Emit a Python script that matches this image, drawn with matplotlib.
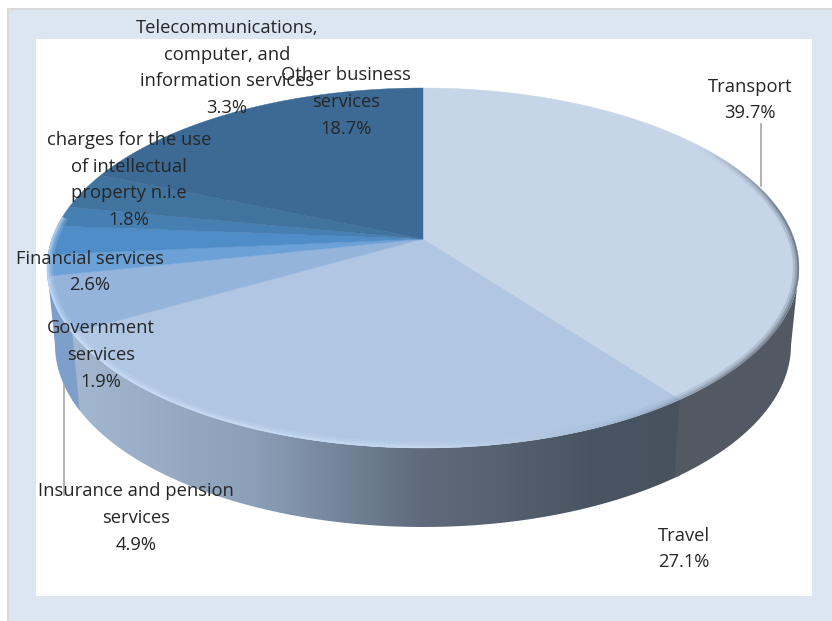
import numpy as np
import matplotlib
matplotlib.use("Agg")
import matplotlib.pyplot as plt
from matplotlib.colors import LinearSegmentedColormap
from matplotlib.collections import LineCollection
from matplotlib.patches import Polygon, Rectangle

plt.rcParams['font.family'] = ['Open Sans', 'DejaVu Sans']

# slices, clockwise from 12 o'clock
categories = ["Transport", "Travel", "Insurance and pension\nservices", "Government\nservices",
              "Financial services", "charges for the use\nof intellectual\nproperty n.i.e",
              "Telecommunications,\ncomputer, and\ninformation services", "Other business\nservices"]
shares = [39.7, 27.1, 4.9, 1.9, 2.6, 1.8, 3.3, 18.7]

top_colors = ["#C6D5E8", "#B0C6E3", "#94B4DC", "#6CA1D8", "#4F8DC8", "#4680B3", "#41739F", "#3C6A94"]
# label centres, pixels
label_pos = [(750, 100), (684, 549), (136, 518), (101, 355), (90, 272), (129, 180), (227, 68), (346, 102)]

# picture geometry in pixels
cx, cy, rx, ry = 423, 268, 376, 180   # outline of the top face
pivot_y = 239
up, down = cy - ry, cy + ry
# perspective so that the centre of the pie lands on the pivot
a_up, a_down = pivot_y - up, down - pivot_y
k = (a_down - a_up) / (a_down + a_up)
a = a_up * (1 + k)
c = rx * np.sqrt(1 - k ** 2)


def top_pt(pct):
    th = np.radians(np.asarray(pct) * 3.6)
    u, v = np.sin(th), np.cos(th)
    w = 1 + k * v
    return cx + c * u / w, pivot_y - a * v / w


def bottom_pt(pct):
    x, y = top_pt(pct)
    return cx + (x - cx) * 368 / rx, 345 + (y - cy) * 182 / ry


fig = plt.figure(figsize=(8.32, 6.21), dpi=100)
ax = fig.add_axes([0, 0, 1, 1])
ax.set_xlim(0, 832)
ax.set_ylim(621, 0)
ax.axis("off")

# frame
ax.add_patch(Rectangle((7, 8), 825, 613, fc="#DCE6F2", ec="none", zorder=0))
ax.plot([7.5, 7.5, 832], [621, 8.5, 8.5], color="#D9D9D9", lw=1.5, zorder=0.5)
ax.add_patch(Rectangle((36, 39), 776, 557, fc="white", ec="none", zorder=1))

edges = np.concatenate([[0], np.cumsum(shares)])
edges = edges / edges[-1] * 100

# where the outline is widest, the wall starts and stops there
scan = np.linspace(0, 100, 2001)
scan_x = top_pt(scan)[0]
p_right, p_left = scan[scan_x.argmax()], scan[scan_x.argmin()]

# side wall
wall_cmap = LinearSegmentedColormap.from_list("wall", [(0, "#A4B7D0"), (0.3, "#8B9FB8"), (0.57, "#606C7D"),
                                                       (0.85, "#4A5563"), (1, "#47525F")])
pcts = np.linspace(p_right, p_left, 400)
tx, ty = top_pt(pcts)
bx, by = bottom_pt(pcts)
wall = np.column_stack([np.r_[tx, bx[::-1]], np.r_[ty, by[::-1]]])
grad = np.linspace(0, 1, 256)[None, :]
im = ax.imshow(grad, extent=(72, 680, 540, 200), cmap=wall_cmap, aspect="auto", zorder=2)
im.set_clip_path(Polygon(wall, transform=ax.transData))
ax.set_xlim(0, 832)
ax.set_ylim(621, 0)

# Transport and far-left walls have their own flat colours
for start, end, col in [(p_right, edges[1], "#525962"), (edges[2], p_left, "#7F9FCB")]:
    p = np.linspace(start, end, 160)
    x1, y1 = top_pt(p)
    x2, y2 = bottom_pt(p)
    ax.fill(np.r_[x1, x2[::-1]], np.r_[y1, y2[::-1]], color=col, lw=0, zorder=3)

# top face
for i in range(len(shares)):
    p = np.linspace(edges[i], edges[i + 1], 150)
    x, y = top_pt(p)
    ax.fill(np.r_[cx, x], np.r_[pivot_y, y], color=top_colors[i], lw=0.3, zorder=4)

# bevel touching the rim: bright at left and front, dark grey on the right
bevel_cmap = LinearSegmentedColormap.from_list("bevel", [(0, "#CFE4FF"), (0.5, "#CDE0F8"), (0.78, "#9DB3CE"),
                                                         (0.9, "#6F7A88"), (1, "#505A66")])
p = np.linspace(15, 77, 420)
xe, ye = top_pt(p)
dx, dy = cx - xe, cy - ye
dist = np.hypot(dx, dy)
fade = np.clip((p[:-1] - 15) / 7, 0, 1)   # dark edge eases in at the upper right
for offset, width, alpha in [(3, 4.5, 0.2), (1.8, 2.6, 0.3), (0.8, 1.2, 0.5)]:
    xo, yo = xe + dx / dist * offset, ye + dy / dist * offset
    pts = np.column_stack([xo, yo])
    segs = np.stack([pts[:-1], pts[1:]], axis=1)
    rgba = bevel_cmap(np.clip((xo[:-1] - 47) / 752, 0, 1))
    rgba[:, 3] = alpha * fade
    ax.add_collection(LineCollection(segs, colors=rgba, linewidths=width, capstyle="butt", zorder=5))

# leader lines
ax.plot([761, 761], [124, 186], color="#A6A6A6", lw=1.2, zorder=6)
ax.plot([64, 64], [385, 495], color="#A6A6A6", lw=1.2, zorder=6)

for name, val, (lx, ly) in zip(categories, shares, label_pos):
    ax.text(lx, ly, f"{name}\n{val:.1f}%", ha="center", va="center", fontsize=13.2,
            color="#262626", linespacing=1.62, zorder=7)

fig.savefig("out.png", dpi=100)
